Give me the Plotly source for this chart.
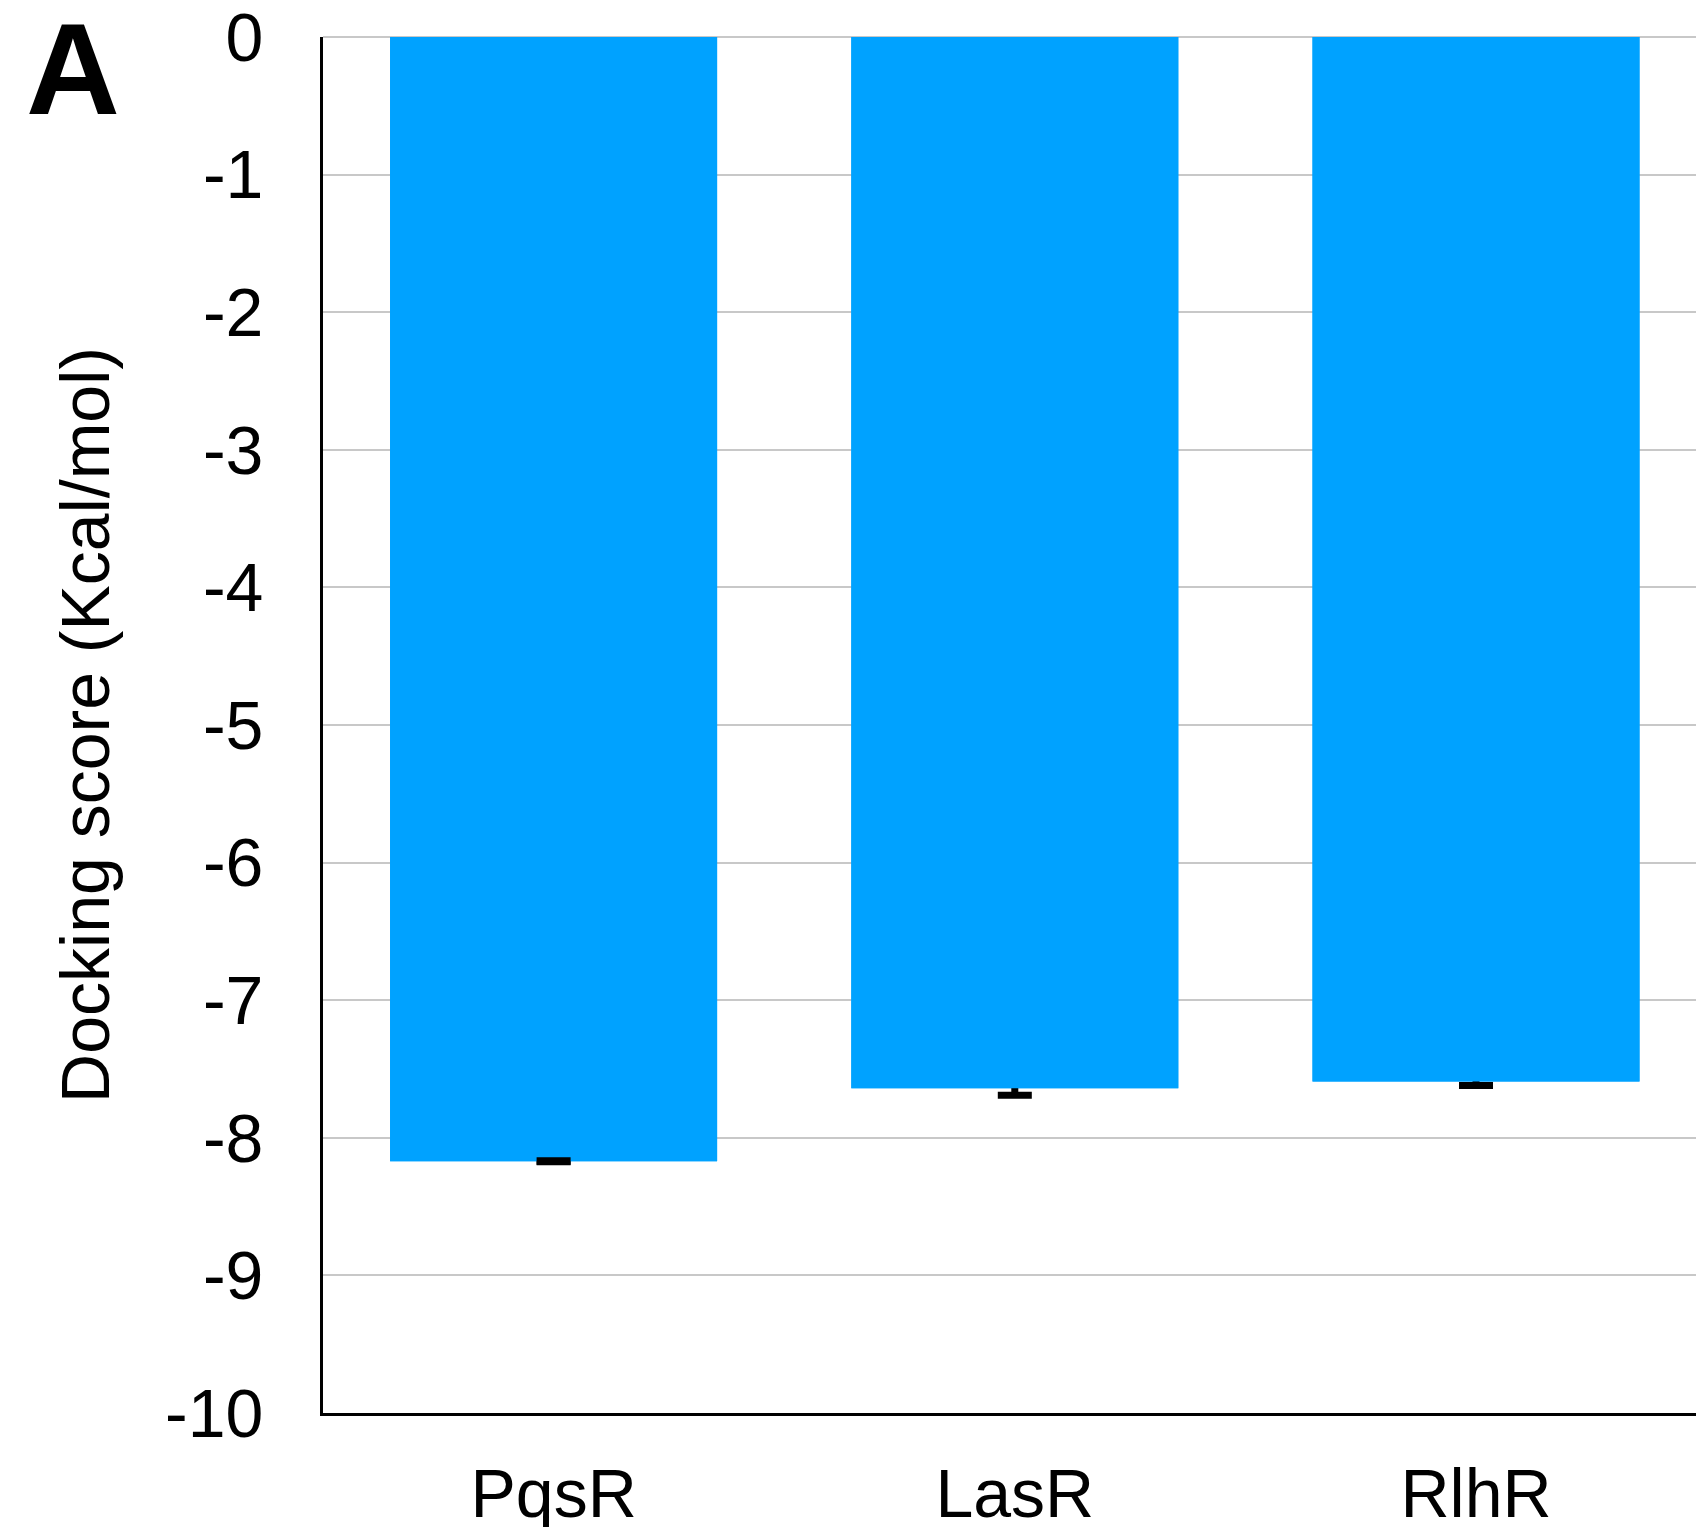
import plotly.graph_objects as go

categories = ["PqsR", "LasR", "RlhR"]
scores = [-8.17, -7.64, -7.59]
errors = [0.0, 0.05, 0.03]
y_ticks = [0, -1, -2, -3, -4, -5, -6, -7, -8, -9, -10]
y_tick_labels = [str(v) for v in y_ticks]
panel_label = "A"
y_title = "Docking score (Kcal/mol)"

BAR_COLOR = "#00A2FF"
FONT = "Liberation Sans"

fig = go.Figure()

# bars carrying the error bars (drawn underneath, so only the outer half shows)
fig.add_trace(go.Bar(
    x=categories, y=scores, width=0.709,
    marker=dict(color=BAR_COLOR, line=dict(width=0)),
    error_y=dict(type="data", array=errors, symmetric=True,
                 color="black", thickness=7, width=17),
    showlegend=False, hoverinfo="skip",
))
# bars on top hiding the inner half of the error bars
fig.add_trace(go.Bar(
    x=categories, y=scores, width=0.709,
    marker=dict(color=BAR_COLOR, line=dict(width=0)),
    showlegend=False,
))
# zero-size errors: cap sits at the bar end, drawn over the bar
zx = [c for c, e in zip(categories, errors) if e == 0]
zy = [s for s, e in zip(scores, errors) if e == 0]
fig.add_trace(go.Scatter(
    x=zx, y=zy, mode="markers", marker=dict(size=1, opacity=0),
    error_y=dict(type="data", array=[0] * len(zx), symmetric=True,
                 color="black", thickness=8, width=17),
    showlegend=False, hoverinfo="skip",
))

fig.update_layout(
    width=1696, height=1527,
    margin=dict(l=323, r=0, t=37, b=114),
    paper_bgcolor="white", plot_bgcolor="white",
    barmode="overlay",
    font=dict(family=FONT, size=68, color="black"),
    xaxis=dict(
        range=[-0.5, 2.477], showgrid=False, zeroline=False,
        showline=True, linecolor="black", linewidth=3,
        ticks="", ticklabelstandoff=19, automargin=False,
        ticklabeloverflow="allow",
        tickfont=dict(size=68, family=FONT, color="black"),
    ),
    yaxis=dict(
        range=[-10, 0.0005], tickvals=y_ticks, ticktext=y_tick_labels,
        showgrid=True, gridcolor="#c8c8c8", gridwidth=2,
        zeroline=True, zerolinecolor="#c8c8c8", zerolinewidth=2,
        showline=True, linecolor="black", linewidth=3,
        ticks="", ticklabelstandoff=43, automargin=False,
        ticklabeloverflow="allow",
        tickfont=dict(size=68, family=FONT, color="black"),
        title=dict(text=y_title, standoff=34,
                   font=dict(size=68, family=FONT, color="black")),
    ),
    annotations=[dict(
        text="<b>" + panel_label + "</b>", xref="paper", yref="paper",
        x=(73 - 323) / 1373, y=1 + (37 - 69) / 1376,
        xanchor="center", yanchor="middle", showarrow=False,
        font=dict(size=130, family=FONT, color="black"),
    )],
)

fig.write_html("out.html")
